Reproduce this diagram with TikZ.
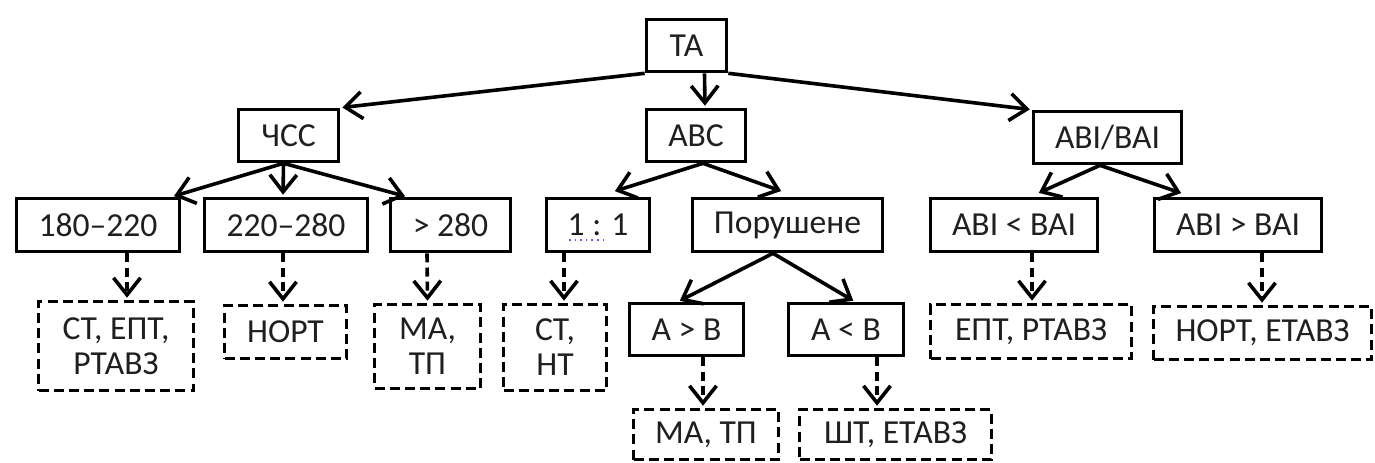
\documentclass[tikz,border=0pt]{standalone}
\usepackage{fontspec}
\setmainfont{Carlito}
\usetikzlibrary{arrows.meta,calc}
\begin{document}
\begin{tikzpicture}[x=0.5pt,y=-0.5pt,
  box/.style={draw=black, line width=1.8pt, inner sep=0pt, text=black!88,
    font=\fontsize{16.8}{17.5}\selectfont, align=center},
  dbox/.style={box, dash pattern=on 5pt off 2.6pt},
  arr/.style={line width=1.8pt, shorten >=1pt,
    -{Straight Barb[length=8.5pt,width=13.5pt,line width=1.8pt]}},
  darr/.style={arr, dash pattern=on 4.5pt off 2.6pt}]
\useasboundingbox (0,0) rectangle (1375,462);

% level 0
\node[box, minimum width=40pt, minimum height=26pt] (ta) at (686.5,45.5) {ТА};
% level 1
\node[box, minimum width=50pt, minimum height=26pt] (chss) at (288.5,135.5) {ЧСС};
\node[box, minimum width=49.5pt, minimum height=26pt] (avs) at (696,135.5) {АВС};
\node[box, minimum width=74pt, minimum height=26pt] (abi) at (1107.5,137.5) {АВІ/ВАІ};
% level 2
\node[box, minimum width=81.5pt, minimum height=26.5pt] (r1) at (98,225) {180–220};
\node[box, minimum width=81.5pt, minimum height=26.5pt] (r2) at (286,225) {220–280};
\node[box, minimum width=60pt, minimum height=26.5pt] (r3) at (450.5,225) {> 280};
\node[box, minimum width=51.5pt, minimum height=26.5pt] (q1) at (598,225) {1 : 1};
\node[box, minimum width=95pt, minimum height=26.5pt] (por) at (787.5,225) {Порушене};
\node[box, minimum width=83.5pt, minimum height=26.5pt] (blt) at (1014,225) {АВІ < ВАІ};
\node[box, minimum width=83.5pt, minimum height=26.5pt] (bgt) at (1238,225) {АВІ > ВАІ};
% level 3
\node[dbox, minimum width=77.5pt, minimum height=44.5pt] (o1) at (116,346) {СТ, ЕПТ,\\РТАВЗ};
\node[dbox, minimum width=61pt, minimum height=26.5pt] (o2) at (285.5,332) {НОРТ};
\node[dbox, minimum width=53pt, minimum height=42pt] (o3) at (427.5,346.5) {МА,\\ТП};
\node[dbox, minimum width=51.5pt, minimum height=43pt] (o4) at (555,347.5) {СТ,\\НТ};
\node[box, minimum width=57pt, minimum height=26pt] (agb) at (686.5,329.5) {А > В};
\node[box, minimum width=57.5pt, minimum height=26pt] (alb) at (846,329.5) {А < В};
\node[dbox, minimum width=100.5pt, minimum height=27pt] (o7) at (1031,331.5) {ЕПТ, РТАВЗ};
\node[dbox, minimum width=109pt, minimum height=26.5pt] (o8) at (1262.5,333) {НОРТ, ЕТАВЗ};
% level 4
\node[dbox, minimum width=72.5pt, minimum height=25pt] (o5) at (706,434.5) {МА, ТП};
\node[dbox, minimum width=96pt, minimum height=25pt] (o6) at (895.5,434.5) {ШТ, ЕТАВЗ};

% spell-check underline
\draw[blue!65, line width=0.8pt, dotted] ($(q1.center)+(-29,15)$) -- ($(q1.center)+(5,15)$);

% solid connectors
\draw[arr] (ta.south west) -- (chss.north east);
\draw[arr] ($(ta.south)+(18,0)$) -- ($(avs.north)+(9,0)$);
\draw[arr] (ta.south east) -- (abi.north west);

\draw[arr] ($(chss.south)+(-5,0)$) -- ($(r1.north)+(74,0)$);
\draw[arr] ($(chss.south)+(-5,0)$) -- ($(r2.north)+(-3,0)$);
\draw[arr] ($(chss.south)+(-5,0)$) -- ($(r3.north)+(-43.5,0)$);

\draw[arr] ($(avs.south)+(7,0)$) -- ($(q1.north)+(15,-5)$);
\draw[arr] ($(avs.south)+(7,0)$) -- ($(por.north)+(-4.5,-5)$);

\draw[arr] ($(abi.south)+(-7.5,0)$) -- ($(blt.north)+(23,-3)$);
\draw[arr] ($(abi.south)+(-7.5,0)$) -- ($(bgt.north)+(-55,-3)$);

\draw[arr] ($(por.south)+(-14.5,0)$) -- ($(agb.north)+(-8.5,0)$);
\draw[arr] ($(por.south)+(-14.5,0)$) -- ($(alb.north)+(9,0)$);

% dashed connectors
\draw[darr] ($(r1.south)+(29,0)$) -- ($(o1.north)+(11,0)$);
\draw[darr] ($(r2.south)+(-3,0)$) -- ($(o2.north)+(-2.5,0)$);
\draw[darr] ($(r3.south)+(-23.5,0)$) -- (o3.north);
\draw[darr] ($(q1.south)+(-34,0)$) -- ($(o4.north)+(9,0)$);
\draw[darr] ($(agb.south)+(16.5,0)$) -- ($(o5.north)+(-3,0)$);
\draw[darr] ($(alb.south)+(31,0)$) -- ($(o6.north)+(-18.5,0)$);
\draw[darr] ($(blt.south)+(18,0)$) -- ($(o7.north)+(1,0)$);
\draw[darr] ($(bgt.south)+(24,0)$) -- ($(o8.north)+(-0.5,0)$);
\end{tikzpicture}
\end{document}
